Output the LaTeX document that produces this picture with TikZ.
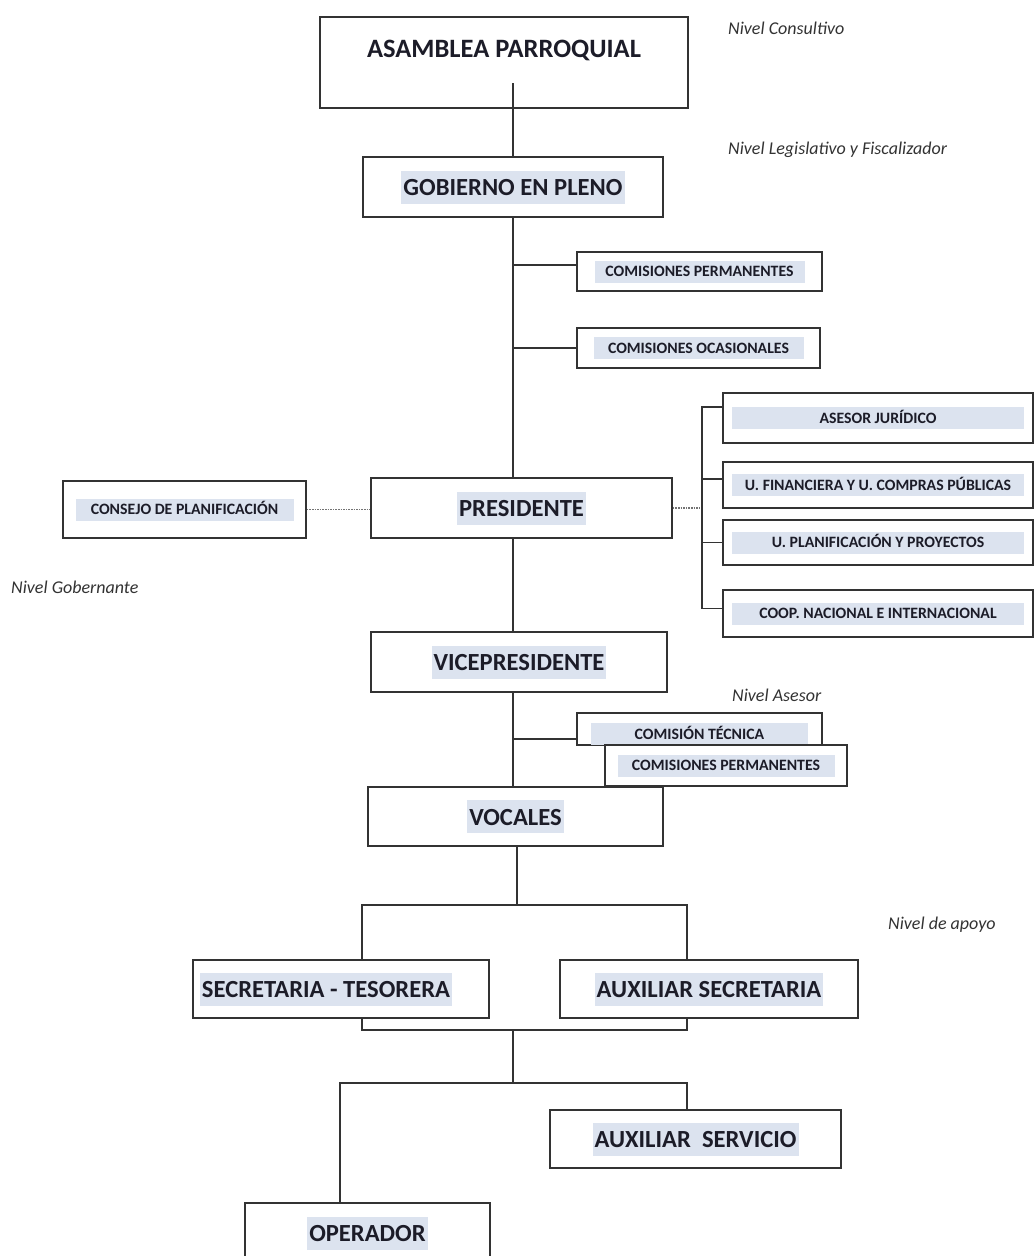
\documentclass[tikz,border=0pt]{standalone}
\usepackage{fontspec}
\setmainfont{Carlito}
\usetikzlibrary{calc}
\definecolor{bandblue}{HTML}{DCE3EF}
\definecolor{textdark}{HTML}{1C1C28}
\setlength{\fboxsep}{2pt}
\newcommand{\hl}[1]{\colorbox{bandblue}{\rule[-6pt]{0pt}{29pt}#1}}
\newcommand{\hls}[2][206pt]{\colorbox{bandblue}{\makebox[#1]{\rule[-4pt]{0pt}{18pt}#2}}}

\begin{document}
\begin{tikzpicture}[x=1pt,y=-1pt,
  box/.style={draw=black!80, line width=1.6pt, fill=white, inner sep=0pt,
    text=textdark, font=\bfseries\fontsize{24.6}{28}\selectfont},
  smallbox/.style={box, font=\bfseries\fontsize{15.8}{18}\selectfont},
  rightbox/.style={smallbox, minimum width=310pt},
  nivel/.style={anchor=west, inner sep=0pt, text=black!80,
    font=\itshape\fontsize{18}{20}\selectfont},
  link/.style={draw=black!80, line width=1.6pt},
  dots/.style={draw=black!55, line width=1.6pt, densely dotted}]
\useasboundingbox (0,0) rectangle (1035,1256);
\fill[white] (0,0) rectangle (1035,1256);

\node[box, minimum width=368pt, minimum height=91pt, text height=19pt, text depth=30pt,
  font=\bfseries\fontsize{26.5}{30}\selectfont]
  (asamblea) at (504,62.5) {ASAMBLEA PARROQUIAL};
\node[box, minimum width=300pt, minimum height=60pt] (gobierno) at (513,187) {\hl{GOBIERNO EN PLENO}};
\node[smallbox, minimum width=245pt, minimum height=39pt] (comperm) at (699.5,271.5) {\hls{COMISIONES PERMANENTES}};
\node[smallbox, minimum width=243pt, minimum height=40pt] (comocas) at (698.5,348) {\hls{COMISIONES OCASIONALES}};
\node[box, minimum width=301pt, minimum height=60pt] (presidente) at (521.5,508) {\hl{PRESIDENTE}};
\node[smallbox, minimum width=243pt, minimum height=57pt] (consejo) at (184.5,509.5) {\hls[214pt]{CONSEJO DE PLANIFICACIÓN}};
\node[rightbox, minimum height=50pt] (asesor) at (878,418) {\hls[288pt]{ASESOR JURÍDICO}};
\node[rightbox, minimum height=46pt] (financiera) at (878,485) {\hls[288pt]{U. FINANCIERA Y U. COMPRAS PÚBLICAS}};
\node[rightbox, minimum height=45pt] (planif) at (878,542.5) {\hls[288pt]{U. PLANIFICACIÓN Y PROYECTOS}};
\node[rightbox, minimum height=47pt] (coop) at (878,613.5) {\hls[288pt]{COOP. NACIONAL E INTERNACIONAL}};
\node[box, minimum width=296pt, minimum height=60pt] (vicepresidente) at (519,662) {\hl{VICEPRESIDENTE}};
\node[smallbox, minimum width=245pt, minimum height=32pt] (comtec) at (699.5,729)
  {\raisebox{-10pt}[0pt][0pt]{\hls[213pt]{COMISIÓN TÉCNICA}}};
\node[smallbox, minimum width=242pt, minimum height=41pt] (comperm2) at (726,765.5) {\hls[213pt]{COMISIONES PERMANENTES}};
\node[box, minimum width=295pt, minimum height=59pt] (vocales) at (515.5,816.5) {\hl{VOCALES}};
\node[box, minimum width=296pt, minimum height=58pt] (secretaria) at (341,989) {\hl{SECRETARIA - TESORERA}\hspace*{30pt}};
\node[box, minimum width=298pt, minimum height=58pt] (auxsecr) at (709,989) {\hl{AUXILIAR SECRETARIA}};
\node[box, minimum width=291pt, minimum height=58pt] (auxserv) at (695.5,1139) {\hl{AUXILIAR\ \ SERVICIO}};
\node[box, minimum width=245pt, minimum height=60pt] (operador) at (367.5,1233) {\hl{OPERADOR}};

\node[nivel] (n-cons) at (728,28) {Nivel Consultivo};
\node[nivel] (n-leg) at (728,150) {Nivel Legislativo y Fiscalizador};
\node[nivel] (n-gob) at (11,587) {Nivel Gobernante};
\node[nivel] (n-ase) at (732,695) {Nivel Asesor};
\node[nivel] (n-apo) at (888,925) {Nivel de apoyo};

\coordinate (asm-in) at (513,83);
\coordinate (brk) at ([xshift=-20pt]asesor.west);
\coordinate (j1) at (517,905);
\coordinate (j2) at (513,1030);
\coordinate (j3) at (513,1083);

\draw[link] (asm-in) -- (gobierno.north);
\draw[link] (gobierno.south) -- (gobierno.south |- presidente.north);
\draw[link] ([yshift=6.5pt]comperm.west -| gobierno.south) -- ([yshift=6.5pt]comperm.west);
\draw[link] (comocas.west -| gobierno.south) -- (comocas.west);
\draw[dots] (consejo.east) -- (consejo.east -| presidente.west);
\draw[dots] (presidente.east) -- (presidente.east -| brk);
\draw[link] ([yshift=11pt]asesor.west) -- ([yshift=11pt]asesor.west -| brk) |- ([yshift=5pt]coop.west);
\draw[link] ([yshift=6pt]financiera.west -| brk) -- ([yshift=6pt]financiera.west);
\draw[link] (planif.west -| brk) -- (planif.west);
\draw[link] (presidente.south -| gobierno.south) -- (vicepresidente.north -| gobierno.south);
\draw[link] (vicepresidente.south -| gobierno.south) -- (vocales.north -| gobierno.south);
\draw[link] ([yshift=-10pt]comtec.west -| gobierno.south) -- ([yshift=-10pt]comtec.west);
\draw[link] (vocales.south -| j1) -- (j1);
\draw[link] ([xshift=21pt]secretaria.north) |- (j1) -| ([xshift=-22pt]auxsecr.north);
\draw[link] ([xshift=21pt]secretaria.south) |- (j2) -| ([xshift=-22pt]auxsecr.south);
\draw[link] (j2) -- (j3);
\draw[link] ([xshift=-27.5pt]operador.north) |- (j3) -| ([xshift=-8.5pt]auxserv.north);
\end{tikzpicture}
\end{document}
